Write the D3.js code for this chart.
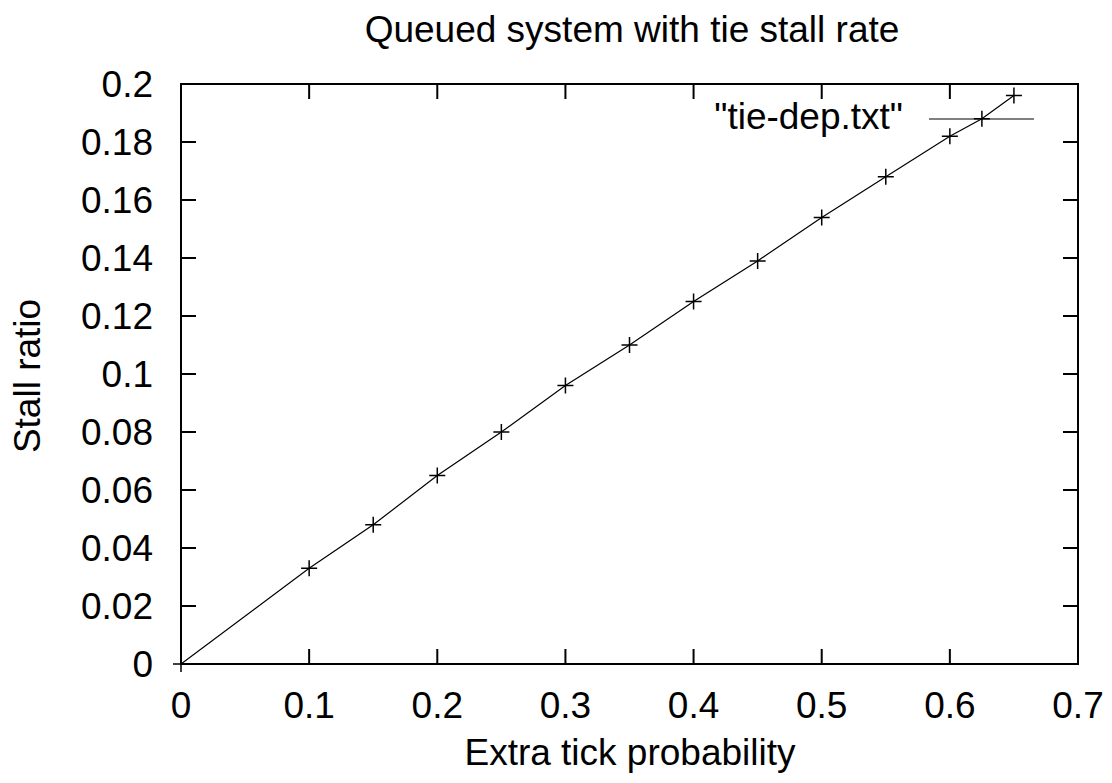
<!DOCTYPE html>
<html><head><meta charset="utf-8">
<script src="https://cdn.jsdelivr.net/npm/d3@7"></script>
<style>body{margin:0;background:#fff}svg{display:block}text{font-family:"Liberation Sans",Arial,sans-serif;fill:#000}</style>
</head><body><svg id="c" width="1112" height="783"></svg>
<script>
const xValues = [0, 0.1, 0.15, 0.2, 0.25, 0.3, 0.35, 0.4, 0.45, 0.5, 0.55, 0.6, 0.625, 0.65];
const yValues = [0, 0.033, 0.048, 0.065, 0.080, 0.096, 0.110, 0.125, 0.139, 0.154, 0.168, 0.182, 0.188, 0.196];
const xTicks = [0, 0.1, 0.2, 0.3, 0.4, 0.5, 0.6, 0.7];
const yTicks = [0, 0.02, 0.04, 0.06, 0.08, 0.1, 0.12, 0.14, 0.16, 0.18, 0.2];
const title = "Queued system with tie stall rate";
const xTitle = "Extra tick probability";
const yTitle = "Stall ratio";
const seriesName = '"tie-dep.txt"';

const L = 181, R = 1078, T = 84, B = 664;
const svg = d3.select("#c");
const x = d3.scaleLinear().domain([0, 0.7]).range([L, R]);
const y = d3.scaleLinear().domain([0, 0.2]).range([B, T]);
const fs = 37;

// ticks (inside, mirrored)
const tk = 15;
const g = svg.append("g").attr("stroke", "#000").attr("stroke-width", 2);
xTicks.forEach(v => {
  g.append("line").attr("x1", x(v)).attr("x2", x(v)).attr("y1", B).attr("y2", B - tk);
  g.append("line").attr("x1", x(v)).attr("x2", x(v)).attr("y1", T).attr("y2", T + tk);
});
yTicks.forEach(v => {
  g.append("line").attr("x1", L).attr("x2", L + tk).attr("y1", y(v)).attr("y2", y(v));
  g.append("line").attr("x1", R).attr("x2", R - tk).attr("y1", y(v)).attr("y2", y(v));
});
svg.append("rect").attr("x", L).attr("y", T).attr("width", R - L).attr("height", B - T)
  .attr("fill", "none").attr("stroke", "#000").attr("stroke-width", 2);

// tick labels
const fmt = d => String(+d.toFixed(2));
xTicks.forEach(v => svg.append("text").attr("x", x(v)).attr("y", B + 54).attr("text-anchor", "middle")
  .attr("font-size", fs).text(fmt(v)));
yTicks.forEach(v => svg.append("text").attr("x", L - 28).attr("y", y(v) + 13).attr("text-anchor", "end")
  .attr("font-size", fs).text(fmt(v)));

// titles
svg.append("text").attr("x", 632).attr("y", 42).attr("text-anchor", "middle").attr("font-size", fs).text(title);
svg.append("text").attr("x", 630).attr("y", 765).attr("text-anchor", "middle").attr("font-size", fs).text(xTitle);
svg.append("text").attr("transform", "translate(40,376) rotate(-90)").attr("text-anchor", "middle")
  .attr("font-size", fs).text(yTitle);

// data line
const pts = xValues.map((v, i) => [v, yValues[i]]);
svg.append("path").attr("d", d3.line().x(d => x(d[0])).y(d => y(d[1]))(pts))
  .attr("fill", "none").attr("stroke", "#000").attr("stroke-width", 1.2);
const m = 8;
pts.forEach(d => {
  const px = x(d[0]), py = y(d[1]);
  svg.append("path").attr("d", `M${px - m},${py}H${px + m}M${px},${py - m}V${py + m}`)
    .attr("stroke", "#000").attr("stroke-width", 1.5);
});

// legend
svg.append("text").attr("x", 903).attr("y", 129).attr("text-anchor", "end").attr("font-size", fs).text(seriesName);
svg.append("line").attr("x1", 929).attr("x2", 1034).attr("y1", 119).attr("y2", 119)
  .attr("stroke", "#000").attr("stroke-width", 1.2);
</script></body></html>
